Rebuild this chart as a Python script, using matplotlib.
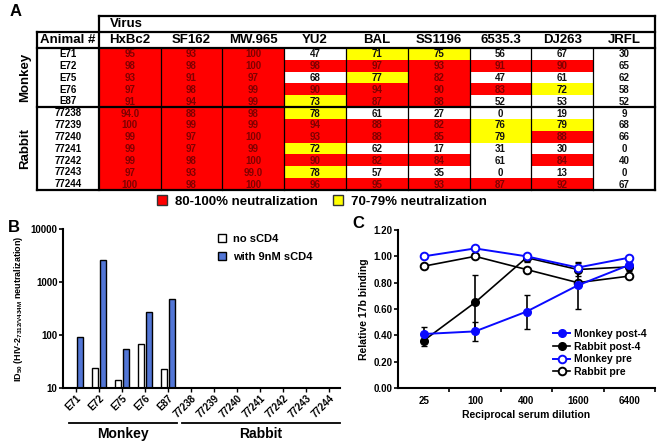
"""Neutralization table, HIV-2 ID50 bars and 17b binding curves."""

import matplotlib
matplotlib.use("Agg")
import matplotlib.pyplot as plt
import numpy as np
from matplotlib.lines import Line2D
from matplotlib.patches import Patch, Rectangle
from matplotlib.ticker import FixedLocator, NullFormatter

plt.rcParams["font.family"] = ["Liberation Sans", "DejaVu Sans"]
plt.rcParams["font.weight"] = "bold"
plt.rcParams["axes.labelweight"] = "bold"
plt.rcParams["mathtext.fontset"] = "custom"
plt.rcParams["mathtext.bf"] = "Liberation Sans:bold"
plt.rcParams["mathtext.rm"] = "Liberation Sans:bold"

# ---- panel A data ----
viruses = ["HxBc2", "SF162", "MW.965", "YU2", "BAL", "SS1196", "6535.3", "DJ263", "JRFL"]
monkeys = ["E71", "E72", "E75", "E76", "E87"]
rabbits = ["77238", "77239", "77240", "77241", "77242", "77243", "77244"]
monkey_vals = [
    ["95", "93", "100", "47", "71", "75", "56", "67", "30"],
    ["98", "98", "100", "98", "97", "93", "91", "90", "65"],
    ["93", "91", "97", "68", "77", "82", "47", "61", "62"],
    ["97", "98", "99", "90", "94", "90", "83", "72", "58"],
    ["91", "94", "99", "73", "87", "88", "52", "53", "52"],
]
rabbit_vals = [
    ["94.0", "88", "98", "78", "61", "27", "0", "19", "9"],
    ["100", "99", "99", "94", "88", "82", "76", "79", "68"],
    ["99", "97", "100", "93", "88", "85", "79", "88", "66"],
    ["99", "97", "99", "72", "62", "17", "31", "30", "0"],
    ["99", "98", "100", "90", "82", "84", "61", "84", "40"],
    ["97", "93", "99.0", "78", "57", "35", "0", "13", "0"],
    ["100", "98", "100", "96", "95", "93", "87", "92", "67"],
]

# ---- panel B data ----
animals = monkeys + rabbits
no_scd4 = [np.nan, 24, 14, 67, 23] + [np.nan] * 7
with_scd4 = [92, 2600, 55, 270, 480] + [np.nan] * 7

# ---- panel C data ----
dilutions = [25, 100, 400, 1600, 6400]
monkey_post4 = [0.41, 0.43, 0.58, 0.78, 0.935]
monkey_post4_err = [0.05, 0.07, 0.13, 0.18, 0.05]
rabbit_post4 = [0.36, 0.65, 0.99, 0.90, 0.92]
rabbit_post4_err = [0.04, 0.21, 0.03, 0.05, 0.05]
monkey_pre = [1.00, 1.06, 1.00, 0.915, 0.99]
rabbit_pre = [0.925, 1.00, 0.90, 0.80, 0.85]

RED = "#ff0000"
YELLOW = "#ffff00"
BAR_BLUE = "#5276d6"
LINE_BLUE = "#0a0aff"

fig = plt.figure(figsize=(6.61, 4.43), dpi=100)

# ================= A: table =================
head_h = 1.35
ax_t = fig.add_axes([37 / 661, 1 - 190 / 443, 618 / 661, 174 / 443])
ax_t.set_xlim(0, 10)
ax_t.set_ylim(12, -2 * head_h)
ax_t.axis("off")

rows = monkeys + rabbits
vals = monkey_vals + rabbit_vals
for r, (name, row) in enumerate(zip(rows, vals)):
    ax_t.text(0.5, r + 0.52, name, ha="center", va="center", fontsize=7)
    for c, s in enumerate(row):
        v = float(s)
        if v >= 80:
            fc, tc = RED, "#800000"
        elif v >= 70:
            fc, tc = YELLOW, "#111111"
        else:
            fc, tc = "white", "#111111"
        ax_t.add_patch(Rectangle((c + 1, r), 1, 1, facecolor=fc, edgecolor="none"))
        ax_t.text(c + 1.5, r + 0.54, s, ha="center", va="center", fontsize=7, color=tc)

for c, v in enumerate(viruses):
    ax_t.text(c + 1.5, -head_h / 2, v, ha="center", va="center", fontsize=9.5)
ax_t.text(0.5, -head_h / 2, "Animal #", ha="center", va="center", fontsize=9.5)
ax_t.text(1.18, -1.5 * head_h, "Virus", ha="left", va="center", fontsize=9.5)

thick = dict(color="black", lw=1.6, clip_on=False, solid_capstyle="projecting")
thin = dict(color="black", lw=0.9, clip_on=False)
for x in range(2, 10):
    ax_t.plot([x, x], [0, 12], **thin)
ax_t.plot([1, 10], [-2 * head_h, -2 * head_h], **thick)
ax_t.plot([1, 1], [-2 * head_h, 12], **thick)
ax_t.plot([10, 10], [-2 * head_h, 12], **thick)
ax_t.plot([0, 0], [-head_h, 12], **thick)
ax_t.plot([0, 10], [-head_h, -head_h], **thick)
ax_t.plot([0, 10], [0, 0], **thick)
ax_t.plot([0, 10], [len(monkeys), len(monkeys)], **thick)
ax_t.plot([0, 10], [12, 12], **thick)

ax_t.text(-0.19, len(monkeys) / 2, "Monkey", rotation=90, ha="center", va="center", fontsize=9.5)
ax_t.text(-0.19, len(monkeys) + len(rabbits) / 2, "Rabbit", rotation=90, ha="center", va="center", fontsize=9.5)

fig.legend(
    handles=[Patch(facecolor=RED, edgecolor="#333333"), Patch(facecolor=YELLOW, edgecolor="#333333")],
    labels=["80-100% neutralization", "70-79% neutralization"],
    ncol=2, frameon=False, fontsize=9.5, loc="center", bbox_to_anchor=(0.487, 0.545),
    handlelength=0.75, handleheight=0.75, handletextpad=0.6, columnspacing=1.2,
)

# ================= B: bars =================
ax_b = fig.add_axes([63 / 661, 1 - 388 / 443, 277 / 661, 159 / 443])
x = np.arange(len(animals))
bw = 0.27
ax_b.bar(x - 0.17, no_scd4, bw, color="white", edgecolor="black", lw=1.0, label="no sCD4")
ax_b.bar(x + 0.17, with_scd4, bw, color=BAR_BLUE, edgecolor="black", lw=1.0, label="with 9nM sCD4")
ax_b.set_yscale("log")
ax_b.set_ylim(10, 10000)
ax_b.set_xlim(-0.57, 11.48)
ax_b.set_yticks([10, 100, 1000, 10000])
ax_b.set_yticklabels(["10", "100", "1000", "10000"])
ax_b.yaxis.set_minor_locator(FixedLocator([]))
ax_b.set_xticks(x)
ax_b.set_xticklabels(animals, rotation=45, ha="right", rotation_mode="anchor", fontsize=7)
ax_b.tick_params(axis="y", labelsize=7, width=1.2, length=3, pad=1)
ax_b.tick_params(axis="x", width=1.0, length=3, pad=1)
for s in ["top", "right"]:
    ax_b.spines[s].set_visible(False)
for s in ["left", "bottom"]:
    ax_b.spines[s].set_linewidth(1.5)
ax_b.set_ylabel(r"ID$_{\mathbf{50}}$ (HIV-2$_{\mathbf{7312/V434M}}$ neutralization)", fontsize=6.5, labelpad=4)
ax_b.legend(
    loc="upper left", bbox_to_anchor=(0.56, 0.97), frameon=False, fontsize=8,
    handlelength=0.75, handleheight=0.75, handletextpad=0.6, labelspacing=0.75,
    borderaxespad=0, borderpad=0,
)

tr = ax_b.get_xaxis_transform()
groups = [("Monkey", -0.3, 4.4), ("Rabbit", 4.6, 11.5)]
for name, x0, x1 in groups:
    ax_b.plot([x0, x1], [-0.22, -0.22], color="black", lw=1.3, transform=tr, clip_on=False)
    ax_b.text((x0 + x1) / 2, -0.29, name, transform=tr, ha="center", va="center", fontsize=10)

# ================= C: 17b binding =================
ax_c = fig.add_axes([398 / 661, 1 - 388 / 443, 257 / 661, 158 / 443])
ms = 5.5
ax_c.errorbar(dilutions, monkey_post4, yerr=monkey_post4_err, color=LINE_BLUE, ecolor="black",
              marker="o", ms=ms, lw=1.4, elinewidth=1.2, capsize=2.5, label="Monkey post-4", zorder=3)
ax_c.errorbar(dilutions, rabbit_post4, yerr=rabbit_post4_err, color="black", ecolor="black",
              marker="o", ms=ms, lw=1.2, elinewidth=1.2, capsize=2.5, label="Rabbit post-4", zorder=2)
ax_c.plot(dilutions, monkey_pre, color=LINE_BLUE, marker="o", ms=ms, mfc="white", mew=1.4,
          lw=1.4, label="Monkey pre", zorder=4)
ax_c.plot(dilutions, rabbit_pre, color="black", marker="o", ms=ms, mfc="white", mew=1.4,
          lw=1.2, label="Rabbit pre", zorder=2)
ax_c.set_xscale("log", base=4)
ax_c.set_xlim(12.5, 12800)
ax_c.set_ylim(0, 1.2)
ax_c.set_yticks(np.arange(0, 1.21, 0.2))
ax_c.set_yticklabels([f"{v:.2f}" for v in np.arange(0, 1.21, 0.2)])
ax_c.xaxis.set_major_locator(FixedLocator(dilutions))
ax_c.set_xticklabels([str(d) for d in dilutions])
ax_c.xaxis.set_minor_locator(FixedLocator([50, 200, 800, 3200, 12800]))
ax_c.xaxis.set_minor_formatter(NullFormatter())
ax_c.tick_params(axis="x", which="major", length=0, labelsize=7, pad=6)
ax_c.tick_params(axis="x", which="minor", length=3, width=1.2)
ax_c.tick_params(axis="y", labelsize=7, width=1.2, length=3, pad=1)
for s in ["top", "right"]:
    ax_c.spines[s].set_visible(False)
for s in ["left", "bottom"]:
    ax_c.spines[s].set_linewidth(1.5)
ax_c.set_xlabel("Reciprocal serum dilution", fontsize=7.5, labelpad=3)
ax_c.set_ylabel("Relative 17b binding", fontsize=7.5, labelpad=3)
handles = [
    Line2D([], [], color=LINE_BLUE, marker="o", ms=ms, lw=1.4),
    Line2D([], [], color="black", marker="o", ms=ms, lw=1.2),
    Line2D([], [], color=LINE_BLUE, marker="o", ms=ms, mfc="white", mew=1.4, lw=1.4),
    Line2D([], [], color="black", marker="o", ms=ms, mfc="white", mew=1.4, lw=1.2),
]
ax_c.legend(handles, ["Monkey post-4", "Rabbit post-4", "Monkey pre", "Rabbit pre"],
            loc="lower left", bbox_to_anchor=(0.605, 0.07), frameon=False, fontsize=7.5,
            handlelength=1.6, handletextpad=0.4, labelspacing=0.25, borderaxespad=0, borderpad=0)

# panel letters
fig.text(10 / 661, 1 - 11 / 443, "A", fontsize=12, ha="left", va="center")
fig.text(8 / 661, 1 - 227 / 443, "B", fontsize=12, ha="left", va="center")
fig.text(352 / 661, 1 - 224 / 443, "C", fontsize=12, ha="left", va="center")

fig.savefig("out.png", dpi=100)
